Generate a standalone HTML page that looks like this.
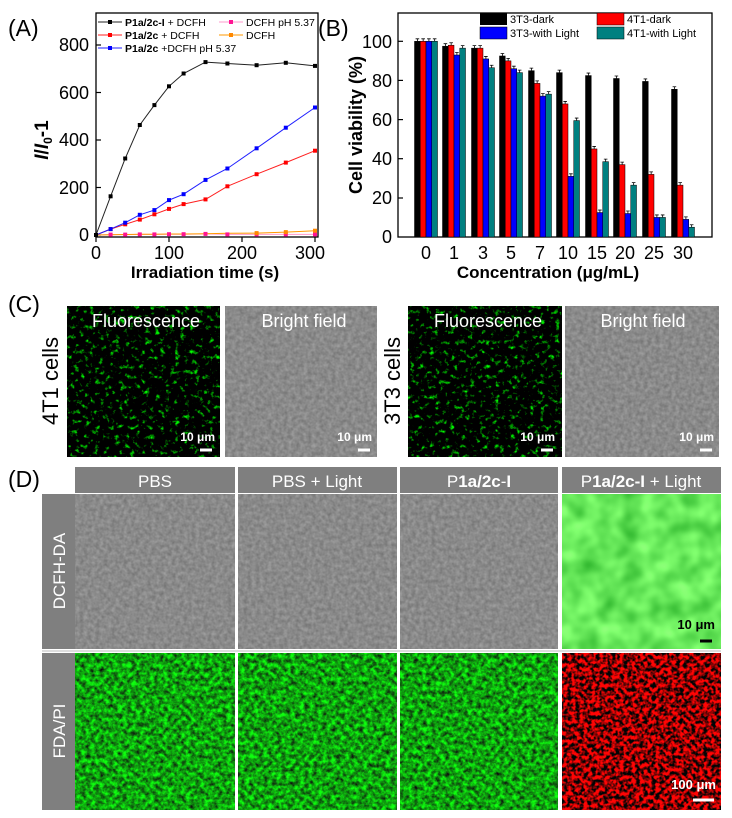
<!DOCTYPE html>
<html><head><meta charset="utf-8"><style>
html,body{margin:0;padding:0;background:#fff}
svg{display:block;font-family:"Liberation Sans",Arial,sans-serif}
</style></head><body>
<svg width="732" height="818" viewBox="0 0 732 818" xmlns="http://www.w3.org/2000/svg">
<defs>
<filter id="bf" x="0" y="0" width="1" height="1" color-interpolation-filters="sRGB"><feTurbulence type="fractalNoise" baseFrequency="0.25" numOctaves="2" seed="3"/><feColorMatrix values="0.22 0 0 0 0.43  0.22 0 0 0 0.43  0.22 0 0 0 0.43  0 0 0 0 1"/></filter>
<filter id="fdagreen" x="0" y="0" width="1" height="1" color-interpolation-filters="sRGB"><feTurbulence type="fractalNoise" baseFrequency="0.22" numOctaves="3" seed="7"/><feColorMatrix values="0 0 0 0 0.06  1.5 0 0 0 -0.12  0 0 0 0 0.06  0 0 0 0 1"/></filter>
<filter id="red" x="0" y="0" width="1" height="1" color-interpolation-filters="sRGB"><feTurbulence type="fractalNoise" baseFrequency="0.25" numOctaves="2" seed="5"/><feColorMatrix values="3.5 0 0 0 -1.2  0 0 0 0 0.02  0 0 0 0 0.02  0 0 0 0 1"/></filter>
<filter id="cfl" x="0" y="0" width="1" height="1" color-interpolation-filters="sRGB"><feTurbulence type="fractalNoise" baseFrequency="0.2" numOctaves="3" seed="11"/><feColorMatrix values="0 0 0 0 0.0  3.5 0 0 0 -2.0  0 0 0 0 0.0  0 0 0 0 1"/></filter>
<filter id="lg" x="0" y="0" width="1" height="1" color-interpolation-filters="sRGB"><feTurbulence type="fractalNoise" baseFrequency="0.05" numOctaves="2" seed="2"/><feColorMatrix values="0.5 0 0 0 0.15  0.45 0 0 0 0.68  0.4 0 0 0 0.15  0 0 0 0 1"/></filter>
</defs>

<!-- Panel A -->
<text x="8" y="36" font-size="23">(A)</text>
<rect x="96" y="13" width="222" height="224" fill="none" stroke="#000" stroke-width="1.3"/>
<g font-size="18" text-anchor="end">
<text x="89" y="241">0</text><text x="89" y="194">200</text><text x="89" y="146">400</text><text x="89" y="99">600</text><text x="89" y="51">800</text>
</g>
<g stroke="#000" stroke-width="1.2">
<line x1="96" y1="235" x2="101" y2="235"/><line x1="96" y1="187.5" x2="101" y2="187.5"/><line x1="96" y1="140" x2="101" y2="140"/><line x1="96" y1="92.5" x2="101" y2="92.5"/><line x1="96" y1="45" x2="101" y2="45"/>
<line x1="96" y1="237" x2="96" y2="242"/><line x1="169" y1="237" x2="169" y2="242"/><line x1="242" y1="237" x2="242" y2="242"/><line x1="315" y1="237" x2="315" y2="242"/>
</g>
<g font-size="18" text-anchor="middle"><text x="96" y="259">0</text><text x="169" y="259">100</text><text x="242" y="259">200</text><text x="310" y="259">300</text></g>
<text x="205" y="278" font-size="17" font-weight="bold" text-anchor="middle">Irradiation time (s)</text>
<text transform="translate(48,140) rotate(-90)" font-size="19" font-weight="bold" text-anchor="middle"><tspan font-style="italic">I</tspan>/<tspan font-style="italic">I</tspan><tspan font-size="12" dy="4">0</tspan><tspan dy="-4">-1</tspan></text>
<polyline fill="none" stroke="#ff99cc" stroke-width="1" points="96,235 110.6,234.6 125.2,234.6 139.8,234.4 154.4,234.4 169,234.2 183.6,234.2 205.5,233.9 227.4,234.4 256.6,234.4 285.8,234.4 315,234.4"/>
<polyline fill="none" stroke="#ff9900" stroke-width="1" points="96,235 110.6,234.8 125.2,234.5 139.8,234.3 154.4,234.3 169,234 183.6,234 205.5,233.8 227.4,233.3 256.6,233.1 285.8,232.1 315,230.7"/>
<polyline fill="none" stroke="#ff2020" stroke-width="1" points="96,235 110.6,229.1 125.2,224.3 139.8,219.6 154.4,214.3 169,208.9 183.6,204.1 205.5,199.4 227.4,186.3 256.6,174.2 285.8,162.6 315,150.7"/>
<polyline fill="none" stroke="#2020ff" stroke-width="1" points="96,235 110.6,229.1 125.2,222.7 139.8,214.8 154.4,210.1 169,200.1 183.6,194.2 205.5,179.9 227.4,168.5 256.6,148.3 285.8,127.7 315,107.5"/>
<polyline fill="none" stroke="#222" stroke-width="1" points="96,235 110.6,196.3 125.2,158.5 139.8,125 154.4,105.1 169,86.3 183.6,73.5 205.5,62.1 227.4,63.5 256.6,65.2 285.8,62.8 315,65.9"/>
<g fill="#ff1493"><rect x="108.6" y="232.6" width="4" height="4"/><rect x="123.2" y="232.6" width="4" height="4"/><rect x="137.8" y="232.4" width="4" height="4"/><rect x="152.4" y="232.4" width="4" height="4"/><rect x="167" y="232.2" width="4" height="4"/><rect x="181.6" y="232.2" width="4" height="4"/><rect x="203.5" y="231.9" width="4" height="4"/><rect x="225.4" y="232.4" width="4" height="4"/><rect x="254.6" y="232.4" width="4" height="4"/><rect x="283.8" y="232.4" width="4" height="4"/><rect x="313" y="232.4" width="4" height="4"/></g>
<g fill="#ff8800"><rect x="283.8" y="230.1" width="4" height="4"/><rect x="313" y="228.7" width="4" height="4"/><rect x="254.6" y="231.1" width="4" height="4"/></g>
<g fill="#ff0000"><rect x="108.6" y="227.1" width="4" height="4"/><rect x="123.2" y="222.3" width="4" height="4"/><rect x="137.8" y="217.6" width="4" height="4"/><rect x="152.4" y="212.3" width="4" height="4"/><rect x="167" y="206.9" width="4" height="4"/><rect x="181.6" y="202.1" width="4" height="4"/><rect x="203.5" y="197.4" width="4" height="4"/><rect x="225.4" y="184.3" width="4" height="4"/><rect x="254.6" y="172.2" width="4" height="4"/><rect x="283.8" y="160.6" width="4" height="4"/><rect x="313" y="148.7" width="4" height="4"/></g>
<g fill="#0000ff"><rect x="108.6" y="227.1" width="4" height="4"/><rect x="123.2" y="220.7" width="4" height="4"/><rect x="137.8" y="212.8" width="4" height="4"/><rect x="152.4" y="208.1" width="4" height="4"/><rect x="167" y="198.1" width="4" height="4"/><rect x="181.6" y="192.2" width="4" height="4"/><rect x="203.5" y="177.9" width="4" height="4"/><rect x="225.4" y="166.5" width="4" height="4"/><rect x="254.6" y="146.3" width="4" height="4"/><rect x="283.8" y="125.7" width="4" height="4"/><rect x="313" y="105.5" width="4" height="4"/></g>
<g fill="#000"><rect x="94" y="233" width="4" height="4"/><rect x="108.6" y="194.3" width="4" height="4"/><rect x="123.2" y="156.5" width="4" height="4"/><rect x="137.8" y="123" width="4" height="4"/><rect x="152.4" y="103.1" width="4" height="4"/><rect x="167" y="84.3" width="4" height="4"/><rect x="181.6" y="71.5" width="4" height="4"/><rect x="203.5" y="60.1" width="4" height="4"/><rect x="225.4" y="61.5" width="4" height="4"/><rect x="254.6" y="63.2" width="4" height="4"/><rect x="283.8" y="60.8" width="4" height="4"/><rect x="313" y="63.9" width="4" height="4"/></g>
<g font-size="10.5">
<line x1="98" y1="22" x2="122" y2="22" stroke="#222"/><rect x="108" y="20" width="4" height="4"/>
<text x="125" y="26"><tspan font-weight="bold">P1a/2c-I</tspan> + DCFH</text>
<line x1="98" y1="35" x2="122" y2="35" stroke="#f22"/><rect x="108" y="33" width="4" height="4" fill="#f00"/>
<text x="125" y="39"><tspan font-weight="bold">P1a/2c</tspan> + DCFH</text>
<line x1="98" y1="48" x2="122" y2="48" stroke="#22f"/><rect x="108" y="46" width="4" height="4" fill="#00f"/>
<text x="125" y="52"><tspan font-weight="bold">P1a/2c</tspan> +DCFH pH 5.37</text>
<line x1="219" y1="22" x2="243" y2="22" stroke="#f9c"/><rect x="229" y="20" width="4" height="4" fill="#ff1493"/>
<text x="246" y="26">DCFH pH 5.37</text>
<line x1="219" y1="35" x2="243" y2="35" stroke="#f90"/><rect x="229" y="33" width="4" height="4" fill="#f80"/>
<text x="246" y="39">DCFH</text>
</g>

<!-- Panel B -->
<text x="318" y="36" font-size="23">(B)</text>
<rect x="398" y="13" width="314" height="224" fill="none" stroke="#000" stroke-width="1.3"/>
<g font-size="18" text-anchor="end">
<text x="392" y="243">0</text><text x="392" y="204">20</text><text x="392" y="165">40</text><text x="392" y="126">60</text><text x="392" y="87">80</text><text x="392" y="48">100</text>
</g>
<g stroke="#000" stroke-width="1.2">
<line x1="398" y1="198" x2="403" y2="198"/><line x1="398" y1="158.7" x2="403" y2="158.7"/><line x1="398" y1="119.6" x2="403" y2="119.6"/><line x1="398" y1="80.4" x2="403" y2="80.4"/><line x1="398" y1="41.3" x2="403" y2="41.3"/>
</g>
<text transform="translate(362,125) rotate(-90)" font-size="18" font-weight="bold" text-anchor="middle">Cell viability (%)</text>
<g font-size="18" text-anchor="middle"><text x="426" y="259">0</text><text x="454" y="259">1</text><text x="483" y="259">3</text><text x="511" y="259">5</text><text x="540" y="259">7</text><text x="568" y="259">10</text><text x="597" y="259">15</text><text x="625" y="259">20</text><text x="654" y="259">25</text><text x="683" y="259">30</text></g>
<text x="548" y="278" font-size="17" font-weight="bold" text-anchor="middle">Concentration (μg/mL)</text>
<g id="bars" stroke="#000" stroke-width="0.5"></g>
<g font-size="11">
<rect x="480" y="13" width="27" height="12" fill="#000"/><text x="510" y="23">3T3-dark</text>
<rect x="480" y="27" width="27" height="12" fill="#0000ff" stroke="#000" stroke-width="0.5"/><text x="510" y="37">3T3-with Light</text>
<rect x="597" y="13" width="27" height="12" fill="#ff0000" stroke="#000" stroke-width="0.5"/><text x="627" y="23">4T1-dark</text>
<rect x="597" y="27" width="27" height="12" fill="#008080" stroke="#000" stroke-width="0.5"/><text x="627" y="37">4T1-with Light</text>
</g>

<!-- Panel C -->
<text x="8" y="312" font-size="23">(C)</text>
<rect x="67" y="306" width="153" height="151" fill="#000" filter="url(#cfl)"/>
<rect x="225" y="306" width="152" height="151" fill="#888" filter="url(#bf)"/>
<rect x="408" y="306" width="154" height="151" fill="#000" filter="url(#cfl)"/>
<rect x="565" y="306" width="154" height="151" fill="#888" filter="url(#bf)"/>
<g fill="#fff" font-size="18" text-anchor="middle">
<text x="146" y="327">Fluorescence</text><text x="304" y="327">Bright field</text>
<text x="488" y="327">Fluorescence</text><text x="643" y="327">Bright field</text>
</g>
<g fill="#fff" font-size="12" font-weight="bold" text-anchor="end">
<text x="215" y="441">10 μm</text><text x="372" y="441">10 μm</text><text x="555" y="441">10 μm</text><text x="714" y="441">10 μm</text>
</g>
<g stroke="#fff" stroke-width="3">
<line x1="200" y1="450" x2="212" y2="450"/><line x1="358" y1="450" x2="370" y2="450"/><line x1="541" y1="450" x2="553" y2="450"/><line x1="700" y1="450" x2="712" y2="450"/>
</g>
<text transform="translate(58,381) rotate(-90)" font-size="22" text-anchor="middle">4T1 cells</text>
<text transform="translate(400,381) rotate(-90)" font-size="22" text-anchor="middle">3T3 cells</text>

<!-- Panel D -->
<text x="8" y="487" font-size="23">(D)</text>
<g fill="#7f7f7f">
<rect x="75" y="467" width="160" height="26"/><rect x="238" y="467" width="159" height="26"/><rect x="400" y="467" width="158" height="26"/><rect x="562" y="467" width="159" height="26"/>
<rect x="42" y="494" width="33" height="155"/><rect x="42" y="653" width="33" height="157"/>
</g>
<g fill="#fff" font-size="17" text-anchor="middle">
<text x="155" y="487">PBS</text><text x="317" y="487">PBS + Light</text>
<text x="479" y="487"><tspan>P</tspan><tspan font-weight="bold">1a/2c</tspan>-<tspan font-weight="bold">I</tspan></text>
<text x="641" y="487">P<tspan font-weight="bold">1a/2c-I</tspan> + Light</text>
<text transform="translate(65,571) rotate(-90)">DCFH-DA</text>
<text transform="translate(65,731) rotate(-90)">FDA/PI</text>
</g>
<rect x="75" y="494" width="160" height="155" fill="#888" filter="url(#bf)"/>
<rect x="238" y="494" width="159" height="155" fill="#888" filter="url(#bf)"/>
<rect x="400" y="494" width="158" height="155" fill="#888" filter="url(#bf)"/>
<rect x="562" y="494" width="159" height="155" fill="#6c6" filter="url(#lg)"/>
<rect x="75" y="653" width="160" height="157" fill="#1a1" filter="url(#fdagreen)"/>
<rect x="238" y="653" width="159" height="157" fill="#1a1" filter="url(#fdagreen)"/>
<rect x="400" y="653" width="158" height="157" fill="#1a1" filter="url(#fdagreen)"/>
<rect x="562" y="653" width="159" height="157" fill="#a00" filter="url(#red)"/>
<line x1="42" y1="651" x2="721" y2="651" stroke="#ddd" stroke-width="2"/>
<text x="715" y="629" font-size="13" font-weight="bold" text-anchor="end">10 μm</text>
<line x1="700" y1="641" x2="712" y2="641" stroke="#000" stroke-width="3"/>
<text x="716" y="789" font-size="13" font-weight="bold" fill="#fff" text-anchor="end">100 μm</text>
<line x1="693" y1="800" x2="714" y2="800" stroke="#fff" stroke-width="3"/>
</svg>
<script>
(function(){
var d=[[100,100,100,100],[97.5,98,93,96.5],[96.5,96.5,91,86.5],[92.5,90,86,84],[85,78.5,72,73],[84,68,31,59.5],[82.5,45,12.5,38.5],[81,37,12,26.5],[79.5,32,10,10],[75.5,26.5,9,5]];
var cx=[426,454,483,511,540,568,597,625,654,683];
var col=["#000","#ff0000","#0000ff","#008080"];
var g=document.getElementById("bars"),s="";
for(var i=0;i<10;i++)for(var k=0;k<4;k++){
var x=cx[i]-11.5+k*5.75,y=237-d[i][k]*1.957;
s+='<rect x="'+x+'" y="'+y+'" width="5.75" height="'+(237-y)+'" fill="'+col[k]+'"/>';
var m=x+2.9;s+='<path d="M'+(m-1.8)+' '+(y-2.5)+'h3.6M'+m+' '+(y-2.5)+'v2.5" fill="none" stroke="#000" stroke-width="0.8"/>';
}
g.innerHTML=s;
})();
</script>
</body></html>
